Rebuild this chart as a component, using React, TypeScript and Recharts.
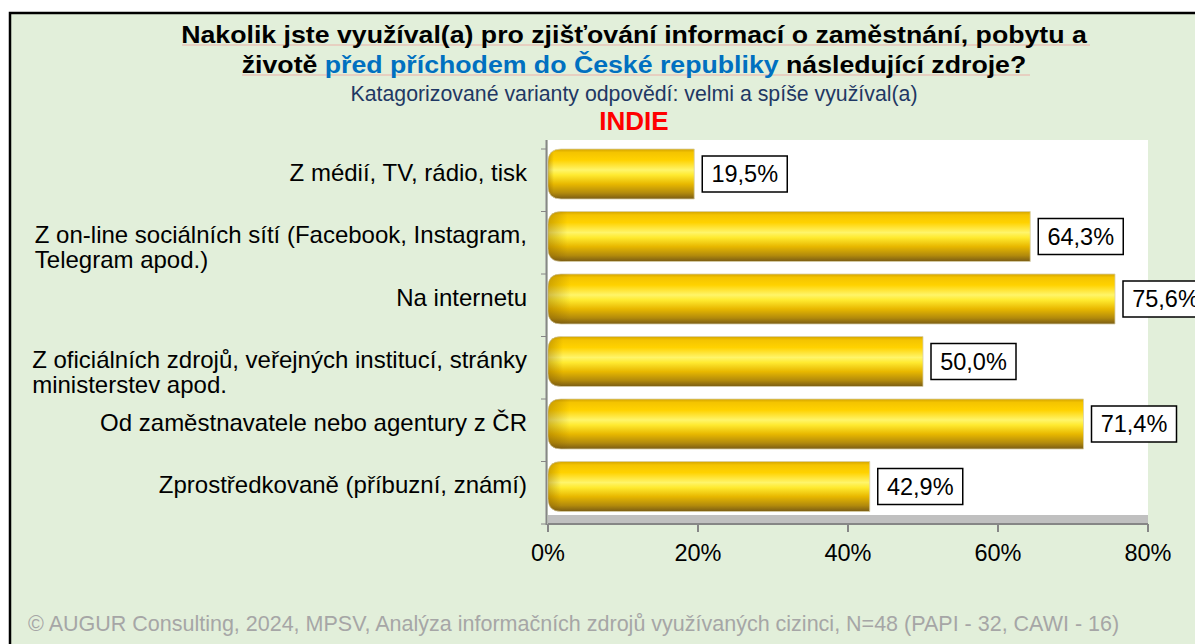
import React from 'react';
import { BarChart, Bar, XAxis, YAxis, LabelList } from 'recharts';

const categories: string[] = [
  'Z médií, TV, rádio, tisk',
  'Z on-line sociálních sítí (Facebook, Instagram,\nTelegram apod.)',
  'Na internetu',
  'Z oficiálních zdrojů, veřejných institucí, stránky\nministerstev apod.',
  'Od zaměstnavatele nebo agentury z ČR',
  'Zprostředkovaně (příbuzní, známí)',
];
const values: number[] = [19.5, 64.3, 75.6, 50.0, 71.4, 42.9];
const xTicks: number[] = [0, 20, 40, 60, 80];

const titleLine1 = 'Nakolik jste využíval(a) pro zjišťování informací o zaměstnání, pobytu a';
const titleLine2a = 'životě ';
const titleLine2b = 'před příchodem do České republiky';
const titleLine2c = ' následující zdroje?';
const subtitle = 'Katagorizované varianty odpovědí: velmi a spíše využíval(a)';
const country = 'INDIE';
const footer = '© AUGUR Consulting, 2024, MPSV, Analýza informačních zdrojů využívaných cizinci, N=48 (PAPI - 32, CAWI - 16)';

const data = categories.map((name, i) => ({ name, value: values[i] }));

const W = 1195;
const H = 644;
const FONT = '"Liberation Sans", Arial, sans-serif';
const CAT_FONT_SIZE = 24;
const M = { top: 149, right: 47, bottom: 80, left: 0 };
const Y_W = 548;
const X_H = 40;
const PLOT_L = M.left + Y_W;
const PLOT_R = W - M.right;
const PLOT_T = M.top;
const PLOT_B = H - M.bottom - X_H;
const BAND = (PLOT_B - PLOT_T) / categories.length;
const DEPTH = 9;
const BAR_SHIFT = 6;
const AXIS_GRAY = '#868686';
const CX = 634;
const TITLE_SX = 1.09;

const fmt = (v: number) => v.toFixed(1).replace('.', ',') + '%';

let measureCtx: CanvasRenderingContext2D | null = null;
const measure = (s: string): number => {
  if (typeof document === 'undefined') return s.length * CAT_FONT_SIZE * 0.5;
  if (!measureCtx) {
    const c = document.createElement('canvas');
    measureCtx = c.getContext('2d');
  }
  if (!measureCtx) return s.length * CAT_FONT_SIZE * 0.5;
  measureCtx.font = `${CAT_FONT_SIZE}px ${FONT}`;
  return measureCtx.measureText(s).width;
};

const GoldBar = (props: any) => {
  const { x, y, width, height } = props;
  if (!width || width <= 0) return null;
  const yy = y - BAR_SHIFT;
  const r = Math.min(13, width / 2);
  const d = `M ${x + width} ${yy} L ${x + r} ${yy} Q ${x} ${yy} ${x} ${yy + r} L ${x} ${yy + height - r} Q ${x} ${yy + height} ${x + r} ${yy + height} L ${x + width} ${yy + height} Z`;
  return (
    <g>
      <path d={d} fill="url(#goldV)" stroke="#D8CFA8" strokeWidth={0.8} />
      <path d={d} fill="url(#goldCap)" />
    </g>
  );
};

const ValueLabel = (props: any) => {
  const { x, y, width, height, value } = props;
  const bx = x + width + 8;
  const cy = y + height / 2 - BAR_SHIFT;
  const bw = 85;
  const bh = 36;
  return (
    <g>
      <rect x={bx} y={cy - bh / 2} width={bw} height={bh} fill="#FFFFFF" stroke="#000000" strokeWidth={1.5} />
      <text x={bx + bw / 2} y={cy} dy="0.36em" textAnchor="middle" fontFamily={FONT} fontSize={23.5} fill="#000">
        {fmt(value)}
      </text>
    </g>
  );
};

const CatTick = (props: any) => {
  const { y, payload } = props;
  const lines: string[] = String(payload.value).split('\n');
  const tx = PLOT_L - 21;
  const bandTop = y - BAND / 2;
  const isLast = payload.index === categories.length - 1;
  const multi = lines.length > 1;
  const startY = multi ? y - 8 : y - BAR_SHIFT - 2;
  const blockW = multi ? Math.max(...lines.map(measure)) : 0;
  const lx = tx - blockW;
  return (
    <g>
      <line x1={PLOT_L - 7} x2={PLOT_L - 1} y1={bandTop} y2={bandTop} stroke={AXIS_GRAY} strokeWidth={1} />
      {isLast && (
        <line x1={PLOT_L - 7} x2={PLOT_L - 1} y1={y + BAND / 2} y2={y + BAND / 2} stroke={AXIS_GRAY} strokeWidth={1} />
      )}
      <text textAnchor={multi ? 'start' : 'end'} fontFamily={FONT} fontSize={CAT_FONT_SIZE} fill="#000">
        {lines.map((ln, i) => (
          <tspan key={i} x={multi ? lx : tx} y={startY + i * 24.5} dy="0.36em">
            {ln}
          </tspan>
        ))}
      </text>
    </g>
  );
};

const stretch = `translate(${CX},0) scale(${TITLE_SX},1) translate(${-CX},0)`;

const Underlay = () => (
  <svg width={W} height={H} style={{ position: 'absolute', left: 0, top: 0 }}>
    <rect x={0} y={0} width={W} height={H} fill="#FFFFFF" />
    <rect x={10} y={13} width={W + 20} height={H + 20} fill="#E2EFDA" stroke="#000" strokeWidth={2.5} />
    <line x1={182} x2={1090} y1={45} y2={45} stroke="#EBB0A8" strokeWidth={1} />
    <line x1={242} x2={1030} y1={75} y2={75} stroke="#EBB0A8" strokeWidth={1} />
    <g transform={stretch}>
      <text x={CX} y={43} textAnchor="middle" fontFamily={FONT} fontSize={24.5} fontWeight="bold" fill="#000">
        {titleLine1}
      </text>
      <text x={CX} y={73} textAnchor="middle" fontFamily={FONT} fontSize={24.5} fontWeight="bold" fill="#000">
        <tspan>{titleLine2a}</tspan>
        <tspan fill="#0070C0">{titleLine2b}</tspan>
        <tspan>{titleLine2c}</tspan>
      </text>
    </g>
    <text x={CX} y={101} textAnchor="middle" fontFamily={FONT} fontSize={21.3} fill="#1F3864">
      {subtitle}
    </text>
    <text x={CX} y={130} textAnchor="middle" fontFamily={FONT} fontSize={26} fontWeight="bold" fill="#FF0000">
      {country}
    </text>
    <rect x={PLOT_L} y={PLOT_T - DEPTH} width={PLOT_R - PLOT_L} height={PLOT_B - PLOT_T} fill="#FFFFFF" />
    <rect x={PLOT_L} y={PLOT_B - DEPTH} width={PLOT_R - PLOT_L} height={DEPTH - 1} fill="#C0C0C0" />
    <line x1={PLOT_L - 1.5} x2={PLOT_L - 1.5} y1={PLOT_T - DEPTH} y2={PLOT_B + 1} stroke={AXIS_GRAY} strokeWidth={2} />
    <text x={28} y={631} fontFamily={FONT} fontSize={21.5} fill="#A6A6A6">
      {footer}
    </text>
  </svg>
);

export default function App() {
  return (
    <div style={{ position: 'absolute', left: 0, top: 0, width: W, height: H, overflow: 'hidden' }}>
      <Underlay />
      <div style={{ position: 'absolute', left: 0, top: 0 }}>
        <BarChart width={W} height={H} data={data} layout="vertical" margin={M} barSize={50}>
          <defs>
            <linearGradient id="goldV" x1="0" y1="0" x2="0" y2="1">
              <stop offset="0%" stopColor="#D4A400" />
              <stop offset="7%" stopColor="#F4C400" />
              <stop offset="22%" stopColor="#FFD200" />
              <stop offset="42%" stopColor="#FFF56A" />
              <stop offset="52%" stopColor="#FFEA30" />
              <stop offset="70%" stopColor="#E8B800" />
              <stop offset="88%" stopColor="#B28A0C" />
              <stop offset="100%" stopColor="#7A5C14" />
            </linearGradient>
            <linearGradient id="goldCap" x1="0" y1="0" x2="1" y2="0" gradientUnits="objectBoundingBox">
              <stop offset="0" stopColor="#7A5200" stopOpacity={0.35} />
              <stop offset="0.04" stopColor="#7A5200" stopOpacity={0} />
              <stop offset="1" stopColor="#7A5200" stopOpacity={0} />
            </linearGradient>
          </defs>
          <XAxis
            type="number"
            domain={[0, 80]}
            ticks={xTicks}
            tickFormatter={(v: number) => `${v}%`}
            height={X_H}
            stroke={AXIS_GRAY}
            axisLine={{ stroke: AXIS_GRAY, strokeWidth: 2 }}
            tickLine={{ stroke: AXIS_GRAY, strokeWidth: 2 }}
            tickSize={8}
            tickMargin={12}
            tick={{ fill: '#000', fontSize: 23.5, fontFamily: FONT }}
            interval={0}
          />
          <YAxis
            type="category"
            dataKey="name"
            width={Y_W}
            axisLine={false}
            tickLine={false}
            tick={<CatTick />}
            interval={0}
          />
          <Bar dataKey="value" shape={<GoldBar />} isAnimationActive={false}>
            <LabelList dataKey="value" content={<ValueLabel />} />
          </Bar>
        </BarChart>
      </div>
    </div>
  );
}
